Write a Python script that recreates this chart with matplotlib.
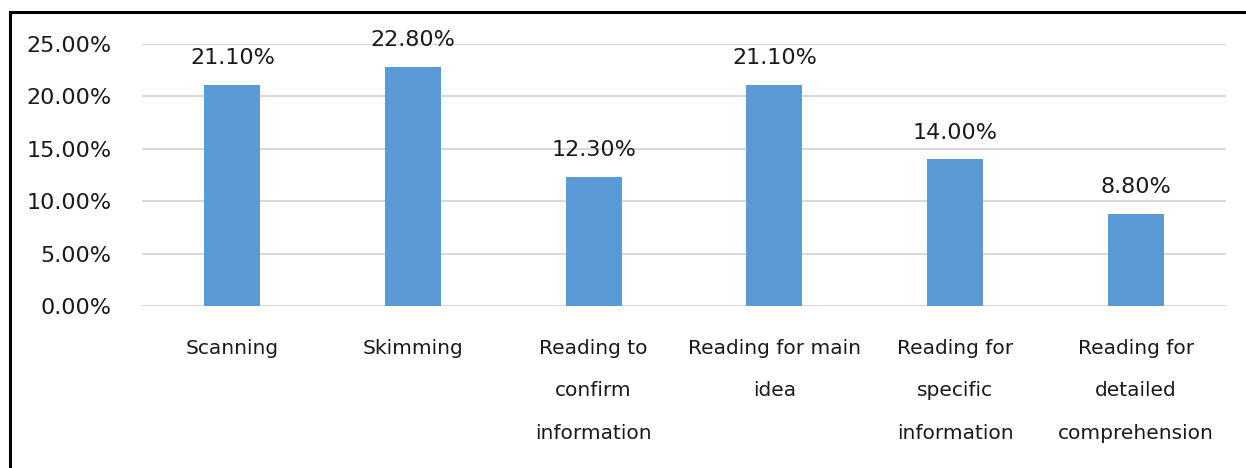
import numpy as np
import matplotlib.pyplot as plt
from matplotlib.lines import Line2D

categories = ["Scanning", "Skimming", "Reading to\nconfirm\ninformation",
              "Reading for main\nidea", "Reading for\nspecific\ninformation",
              "Reading for\ndetailed\ncomprehension"]
values = [21.10, 22.80, 12.30, 21.10, 14.00, 8.80]
yticks = [0, 5, 10, 15, 20, 25]

plt.rcParams['font.family'] = ['DejaVu Sans']

fig = plt.figure(figsize=(12.46, 4.68), dpi=100)
ax = fig.add_axes([142 / 1246, 1 - 306 / 468, (1226 - 142) / 1246, (306 - 44) / 468])

x = np.arange(len(categories))
ax.bar(x, values, width=0.31, color="#5B9BD5", zorder=3)
for xi, v in zip(x, values):
    ax.annotate("%.2f%%" % v, (xi, v), xytext=(0, 12), textcoords="offset points",
                ha="center", va="bottom", fontsize=16, color="#1a1a1a")

ax.set_xlim(-0.5, len(categories) - 0.5)
ax.set_ylim(0, 25)
ax.set_yticks(yticks)
ax.set_yticklabels(["%.2f%%" % t for t in yticks], fontsize=16, color="#1a1a1a")
ax.set_xticks(x)
ax.set_xticklabels(categories, fontsize=14.5, color="#1a1a1a", linespacing=2.58, va="top")
ax.tick_params(axis="both", length=0)
ax.tick_params(axis="x", pad=23.5)
ax.tick_params(axis="y", pad=22)
ax.yaxis.grid(True, color="#d9d9d9", linewidth=1.5, zorder=0)
for s in ax.spines.values():
    s.set_visible(False)

# outer frame (left and top edges visible)
fig.add_artist(Line2D([9.5 / 1246, 9.5 / 1246], [0, 1 - 12 / 468], color="black", linewidth=2.2, transform=fig.transFigure))
fig.add_artist(Line2D([9.5 / 1246, 1], [1 - 12 / 468, 1 - 12 / 468], color="black", linewidth=2.2, transform=fig.transFigure))

fig.savefig("out.png", dpi=100)
